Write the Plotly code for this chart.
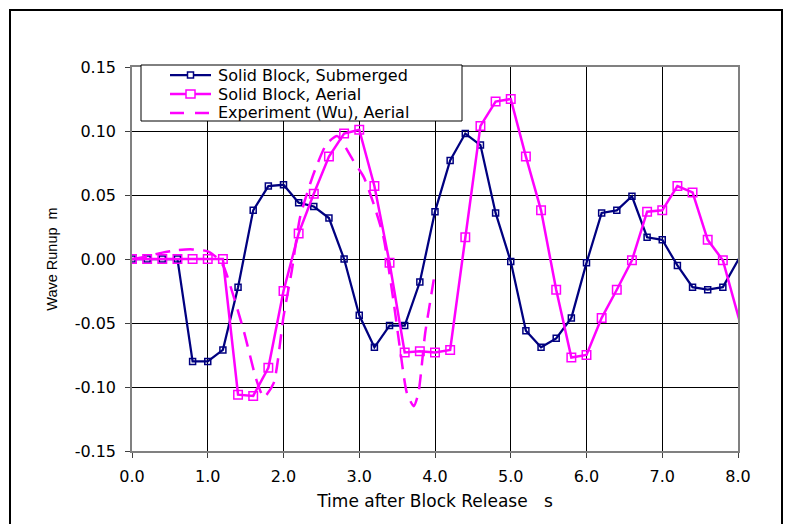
import plotly.graph_objects as go

# ---- data -------------------------------------------------------------
# Simulated runup, solid block, submerged (0.2 s output interval)
t_sub = [0.0, 0.2, 0.4, 0.6, 0.8, 1.0, 1.2, 1.4, 1.6, 1.8, 2.0, 2.2, 2.4, 2.6,
         2.8, 3.0, 3.2, 3.4, 3.6, 3.8, 4.0, 4.2, 4.4, 4.6, 4.8, 5.0, 5.2, 5.4,
         5.6, 5.8, 6.0, 6.2, 6.4, 6.6, 6.8, 7.0, 7.2, 7.4, 7.6, 7.8, 8.2]
runup_sub = [0.000, 0.000, 0.000, 0.000, -0.080, -0.080, -0.071, -0.022, 0.038,
             0.057, 0.058, 0.044, 0.041, 0.032, 0.000, -0.044, -0.069, -0.052,
             -0.052, -0.018, 0.037, 0.077, 0.098, 0.089, 0.036, -0.002, -0.056,
             -0.069, -0.062, -0.046, -0.003, 0.036, 0.038, 0.049, 0.017, 0.015,
             -0.005, -0.022, -0.024, -0.022, 0.020]

# Simulated runup, solid block, aerial
t_aer = [0.0, 0.2, 0.4, 0.6, 0.8, 1.0, 1.2, 1.4, 1.6, 1.8, 2.0, 2.2, 2.4, 2.6,
         2.8, 3.0, 3.2, 3.4, 3.6, 3.8, 4.0, 4.2, 4.4, 4.6, 4.8, 5.0, 5.2, 5.4,
         5.6, 5.8, 6.0, 6.2, 6.4, 6.6, 6.8, 7.0, 7.2, 7.4, 7.6, 7.8, 8.2]
runup_aer = [0.000, 0.000, 0.000, 0.000, 0.000, 0.000, 0.000, -0.106, -0.107,
             -0.085, -0.025, 0.020, 0.051, 0.080, 0.098, 0.101, 0.057, -0.003,
             -0.073, -0.072, -0.073, -0.071, 0.017, 0.104, 0.123, 0.125, 0.080,
             0.038, -0.024, -0.077, -0.075, -0.046, -0.024, -0.001, 0.037,
             0.038, 0.057, 0.052, 0.015, -0.001, -0.087]

# Measured runup (Wu), aerial slide
t_exp = [0.00, 0.20, 0.40, 0.60, 0.80, 1.00, 1.12, 1.21, 1.47, 1.64, 1.74,
         1.87, 2.00, 2.11, 2.22, 2.40, 2.57, 2.71, 2.79, 2.92, 3.06, 3.19,
         3.32, 3.45, 3.54, 3.63, 3.72, 3.78, 3.87, 3.94, 4.00]
runup_exp = [0.000, 0.002, 0.005, 0.007, 0.0075, 0.006, 0.001, -0.006, -0.055,
             -0.094, -0.108, -0.097, -0.045, -0.009, 0.033, 0.067, 0.090,
             0.096, 0.090, 0.077, 0.064, 0.043, 0.017, -0.032, -0.071, -0.105,
             -0.115, -0.105, -0.058, -0.032, -0.010]

series_names = ["Solid Block, Submerged", "Solid Block, Aerial",
                "Experiment (Wu), Aerial"]

x_ticks = [0, 1, 2, 3, 4, 5, 6, 7, 8]
x_tick_text = ["0.0", "1.0", "2.0", "3.0", "4.0", "5.0", "6.0", "7.0", "8.0"]
y_ticks = [-0.15, -0.10, -0.05, 0.0, 0.05, 0.10, 0.15]
y_tick_text = ["-0.15", "-0.10", "-0.05", "0.00", "0.05", "0.10", "0.15"]

# ---- styling ------------------------------------------------------------
NAVY = "#000080"
MAGENTA = "#FF00FF"
W, H = 791, 524
ML, MR, MT, MB = 132, 53, 67, 73
PW, PH = W - ML - MR, H - MT - MB
FONT = "DejaVu Sans"


def px_x(px):
    """pixel column -> paper x"""
    return (px - ML) / PW


def px_y(py):
    """pixel row -> paper y"""
    return (H - MB - py) / PH


fig = go.Figure()

fig.add_trace(go.Scatter(
    x=t_sub, y=runup_sub, name=series_names[0], mode="lines+markers",
    line=dict(color=NAVY, width=2.25),
    marker=dict(symbol="square-open", size=6, color=NAVY,
                line=dict(color=NAVY, width=1.5)),
    showlegend=False,
))
fig.add_trace(go.Scatter(
    x=t_aer, y=runup_aer, name=series_names[1], mode="lines+markers",
    line=dict(color=MAGENTA, width=2.5),
    marker=dict(symbol="square-open", size=8.5, color=MAGENTA,
                line=dict(color=MAGENTA, width=1.5)),
    showlegend=False,
))
fig.add_trace(go.Scatter(
    x=t_exp, y=runup_exp, name=series_names[2], mode="lines",
    line=dict(color=MAGENTA, width=2.5, dash="15px,9px", shape="spline",
              smoothing=0.6),
    showlegend=False,
))

axis_common = dict(
    showgrid=True, gridcolor="#000000", gridwidth=1,
    showline=True, linecolor="#808080", linewidth=1.5, mirror=True,
    ticks="outside", ticklen=5, tickcolor="#404040", tickwidth=1,
    zeroline=False,
    tickfont=dict(family=FONT, size=16, color="#000000"),
)

fig.update_xaxes(
    range=[0, 8], tickvals=x_ticks, ticktext=x_tick_text,
    ticklabelstandoff=5,
    title=dict(text="Time after Block Release\u00a0\u00a0\u00a0s",
               font=dict(family=FONT, size=17, color="#000000"), standoff=10),
    **axis_common,
)
fig.update_yaxes(
    range=[-0.15, 0.15], tickvals=y_ticks, ticktext=y_tick_text,
    ticklabelstandoff=6,
    title=dict(text="Wave Runup\u00a0\u00a0m",
               font=dict(family="Liberation Sans", size=14.5, color="#000000"),
               standoff=14),
    **axis_common,
)

# frame around the whole chart, and the legend box over the plot's top-left
shapes = [
    dict(type="rect", xref="paper", yref="paper",
         x0=px_x(10), x1=px_x(782), y0=px_y(540), y1=px_y(10),
         line=dict(color="#000000", width=2), layer="below"),
    dict(type="rect", xref="paper", yref="paper",
         x0=px_x(141), x1=px_x(462), y0=px_y(121), y1=px_y(65),
         fillcolor="#FFFFFF", line=dict(color="#000000", width=1),
         layer="above"),
]
rows = [75, 94, 113]
swatch_x0, swatch_x1, swatch_mid = 170, 211, 190.5
shapes.append(dict(type="line", xref="paper", yref="paper",
                   x0=px_x(swatch_x0), x1=px_x(swatch_x1),
                   y0=px_y(rows[0]), y1=px_y(rows[0]),
                   line=dict(color=NAVY, width=2.25), layer="above"))
shapes.append(dict(type="rect", xref="paper", yref="paper",
                   x0=px_x(swatch_mid - 3), x1=px_x(swatch_mid + 3),
                   y0=px_y(rows[0] + 3), y1=px_y(rows[0] - 3),
                   fillcolor="#FFFFFF", line=dict(color=NAVY, width=1.5),
                   layer="above"))
shapes.append(dict(type="line", xref="paper", yref="paper",
                   x0=px_x(swatch_x0), x1=px_x(swatch_x1),
                   y0=px_y(rows[1]), y1=px_y(rows[1]),
                   line=dict(color=MAGENTA, width=2.5), layer="above"))
shapes.append(dict(type="rect", xref="paper", yref="paper",
                   x0=px_x(swatch_mid - 4.5), x1=px_x(swatch_mid + 4.5),
                   y0=px_y(rows[1] + 4), y1=px_y(rows[1] - 4),
                   fillcolor="#FFFFFF", line=dict(color=MAGENTA, width=1.5),
                   layer="above"))
shapes.append(dict(type="line", xref="paper", yref="paper",
                   x0=px_x(swatch_x0), x1=px_x(swatch_x1),
                   y0=px_y(rows[2]), y1=px_y(rows[2]),
                   line=dict(color=MAGENTA, width=2.5, dash="14px,11px"),
                   layer="above"))

annotations = [
    dict(xref="paper", yref="paper", x=px_x(216), y=px_y(r), text=name,
         showarrow=False, xanchor="left", yanchor="middle",
         font=dict(family=FONT, size=16, color="#000000"))
    for r, name in zip(rows, series_names)
]

fig.update_layout(
    width=W, height=H,
    margin=dict(l=ML, r=MR, t=MT, b=MB, autoexpand=False),
    paper_bgcolor="#FFFFFF", plot_bgcolor="#FFFFFF",
    font=dict(family=FONT, color="#000000"),
    shapes=shapes, annotations=annotations,
    showlegend=False,
)

fig.write_html("out.html")
